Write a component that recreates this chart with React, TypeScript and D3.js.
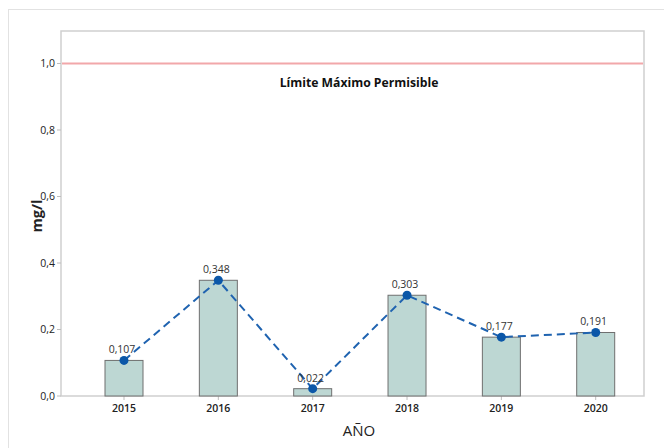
import React from "react";
import * as d3 from "d3";

const years = ["2015", "2016", "2017", "2018", "2019", "2020"];
const values = [0.107, 0.348, 0.022, 0.303, 0.177, 0.191];
const valueLabels = ["0,107", "0,348", "0,022", "0,303", "0,177", "0,191"];
const yTicks = [0, 0.2, 0.4, 0.6, 0.8, 1.0];
const limitValue = 1.0;
const limitLabel = "Límite Máximo Permisible";
const yTitle = "mg/l";
const xTitle = "AÑO";

const W = 664;
const H = 448;
const plot = { left: 61, top: 31, right: 644, bottom: 396 };

export default function App() {
  const x = d3
    .scalePoint<string>()
    .domain(years)
    .range([124, 595.7]);
  const y = d3
    .scaleLinear()
    .domain([0, 1.0])
    .range([plot.bottom, 63.5]);
  const barW = 38;
  const fmt = (v: number) => d3.format(".1f")(v).replace(".", ",");
  const line = d3
    .line<number>()
    .x((_, i) => x(years[i]) as number)
    .y((d) => y(d));
  const font = "'Segoe UI', 'Open Sans', 'Noto Sans', sans-serif";

  return (
    <svg
      width={W}
      height={H}
      style={{ position: "absolute", left: 0, top: 0, background: "#fff" }}
      fontFamily={font}
    >
      <rect x={8.5} y={9.5} width={720} height={500} fill="none" stroke="#e2e2e2" strokeWidth={1} />
      <rect
        x={plot.left}
        y={plot.top}
        width={plot.right - plot.left}
        height={plot.bottom - plot.top}
        fill="none"
        stroke="#cfcfcf"
        strokeWidth={1.5}
      />
      {yTicks.map((t) => (
        <g key={t}>
          <line x1={plot.left - 4} x2={plot.left} y1={y(t)} y2={y(t)} stroke="#bdbdbd" />
          <text x={plot.left - 6} y={y(t) + 3.5} textAnchor="end" fontSize={10.5} fill="#222">
            {fmt(t)}
          </text>
        </g>
      ))}
      {years.map((yr) => (
        <g key={yr}>
          <line x1={x(yr)} x2={x(yr)} y1={plot.bottom} y2={plot.bottom + 4} stroke="#bdbdbd" />
          <text x={x(yr)} y={plot.bottom + 16} textAnchor="middle" fontSize={10.5} fill="#222" fontWeight={600}>
            {yr}
          </text>
        </g>
      ))}
      <line
        x1={plot.left + 1}
        x2={plot.right - 1}
        y1={y(limitValue)}
        y2={y(limitValue)}
        stroke="#f2a7aa"
        strokeWidth={2}
      />
      <text x={359} y={86.5} textAnchor="middle" fontSize={12.2} fontWeight={700} fill="#111">
        {limitLabel}
      </text>
      {values.map((v, i) => (
        <rect
          key={years[i]}
          x={(x(years[i]) as number) - barW / 2}
          y={y(v)}
          width={barW}
          height={plot.bottom - y(v)}
          fill="#bdd7d3"
          stroke="#6f6f6f"
          strokeWidth={1}
        />
      ))}
      <path d={line(values) || ""} fill="none" stroke="#1f63b0" strokeWidth={2} strokeDasharray="8,5" />
      {values.map((v, i) => (
        <circle key={"c" + i} cx={x(years[i])} cy={y(v)} r={4.5} fill="#0b57a8" />
      ))}
      {values.map((v, i) => (
        <text
          key={"l" + i}
          x={(x(years[i]) as number) - 2}
          y={y(v) - 7}
          textAnchor="middle"
          fontSize={10.5}
          fill="#333"
        >
          {valueLabels[i]}
        </text>
      ))}
      <text
        transform={`translate(42,216) rotate(-90)`}
        textAnchor="middle"
        fontSize={14.5}
        fontWeight={700}
        fill="#222"
      >
        {yTitle}
      </text>
      <text x={359} y={436} textAnchor="middle" fontSize={15} fill="#222">
        {xTitle}
      </text>
    </svg>
  );
}
